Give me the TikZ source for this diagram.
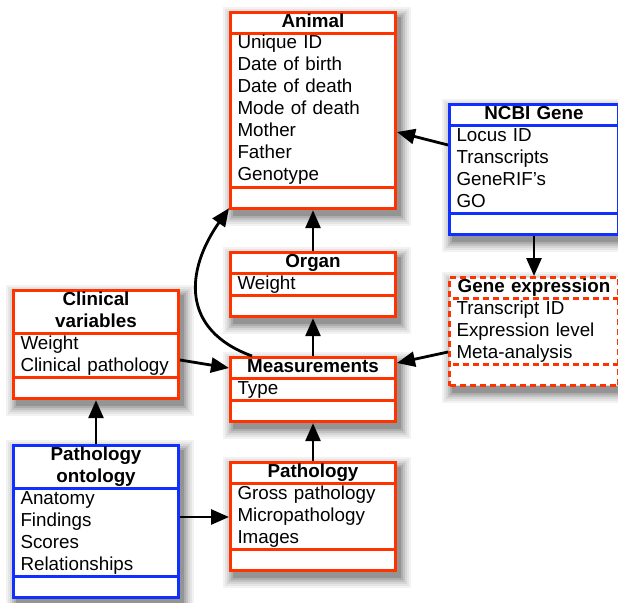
\documentclass[tikz,border=0pt]{standalone}
\usepackage{fontspec}
\setmainfont{Liberation Sans}
\usetikzlibrary{arrows.meta,positioning,shapes.multipart,backgrounds}
\definecolor{umlred}{RGB}{255,51,0}
\definecolor{umlblue}{RGB}{16,48,255}
\newcommand{\classname}[1]{\makebox[\hsize]{\strut\textbf{#1}}}
\tikzset{
	class/.style={rectangle split,rectangle split parts=3,draw=umlred,line width=3pt,fill=white,
		anchor=north west,text width=151pt,inner xsep=7pt,inner ysep=-1.8pt,align=left,
		font=\fontsize{18.8}{22}\selectfont},
	wide/.style={text width=155pt},
	source/.style={draw=umlblue},
	derived/.style={dash pattern=on 6pt off 4pt},
	link/.style={line width=2.8pt,-{Triangle[length=18pt,width=15pt]}}
}

\begin{document}
\begin{tikzpicture}[x=1pt,y=-1pt]
	\useasboundingbox (0,0) rectangle (618,602);
	\node[class] (animal) at (229,11) {\classname{Animal}
		\nodepart{two}\strut Unique ID\\Date of birth\\Date of death\\Mode of death\\Mother\\Father\\Genotype\strut
		\nodepart{three}\strut};
	\node[class,wide,source] (gene) at (448,103) {\classname{NCBI Gene}
		\nodepart{two}\strut Locus ID\\Transcripts\\GeneRIF's\\GO\strut
		\nodepart{three}\strut};
	\node[class,wide,derived] (expr) at (448,276) {\classname{Gene expression}
		\nodepart{two}\strut Transcript ID\\Expression level\\Meta-analysis\strut
		\nodepart{three}\strut};
	\node[class] (organ) at (229,251) {\classname{Organ}
		\nodepart{two}\strut Weight
		\nodepart{three}\strut};
	\node[class] (meas) at (229,356) {\classname{Measurements}
		\nodepart{two}\strut Type
		\nodepart{three}\strut};
	\node[class] (patho) at (229,461) {\classname{Pathology}
		\nodepart{two}\strut Gross pathology\\Micropathology\\Images\strut
		\nodepart{three}\strut};
	\node[class] (clin) at (12,289) {\classname{Clinical}\\\classname{variables}
		\nodepart{two}\strut Weight\\Clinical pathology\strut
		\nodepart{three}\strut};
	\node[class,source] (ontol) at (12,444) {\classname{Pathology}\\\classname{ontology}
		\nodepart{two}\strut Anatomy\\Findings\\Scores\\Relationships\strut
		\nodepart{three}\strut};
	% soft shadows
	\begin{scope}[on background layer]
		\foreach \n in {animal,gene,expr,organ,meas,patho,clin,ontol}
			\foreach \k/\g in {10/5,8/10,6/16,4/24,2/32,0/42}
				\fill[black!\g] ([shift={({4-\k},{6-\k})}]\n.north west) rectangle ([shift={({4+\k},{6+\k})}]\n.south east);
	\end{scope}
	% links
	\draw[link] (patho.north) -- (meas.south);
	\draw[link] (meas.north) -- (organ.south);
	\draw[link] (organ.north) -- (animal.south);
	\draw[link] ([xshift=23pt]meas.north west) to[out=160,in=235,looseness=1.3] ([yshift=2pt]animal.south west);
	\draw[link] ([yshift=-42pt]gene.north west) -- ([yshift=-121pt]animal.north east);
	\draw[link] (gene.south) -- (expr.north);
	\draw[link] ([yshift=-76pt]expr.north west) -- ([yshift=-7pt]meas.north east);
	\draw[link] ([yshift=-71pt]clin.north east) -- ([yshift=-12pt]meas.north west);
	\draw[link] (ontol.north) -- (clin.south);
	\draw[link] ([yshift=-73pt]ontol.north east) -- ([yshift=-56pt]patho.north west);
\end{tikzpicture}
\end{document}
